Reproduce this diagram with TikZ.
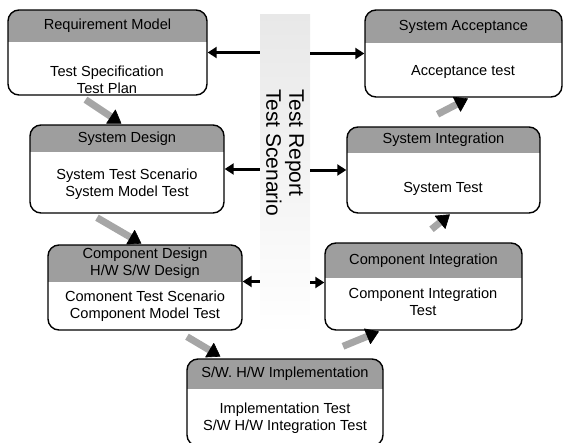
\documentclass[tikz,border=0pt]{standalone}
\usepackage{fontspec}
\setmainfont{Liberation Sans}
\usetikzlibrary{arrows.meta,fit,calc}

\tikzset{
  stagebox/.style={draw=black, line width=1.4pt, rounded corners=11pt, inner sep=0pt},
  headfill/.style={fill=black!38},
  headtext/.style={font=\fontsize{14.6}{17}\selectfont, align=center, inner sep=0pt},
  bodytext/.style={font=\fontsize{14.6}{17}\selectfont, align=center, inner sep=0pt},
  flow/.style={line width=3pt, -{Triangle[length=9pt,width=11pt]}},
  stepshaft/.style={draw=black!35, line width=7pt},
  stephead/.style={fill=black, draw=black, line width=0.6pt, line join=round},
  barbox/.style={inner sep=0pt, top color=black!9, bottom color=white},
  bartext/.style={font=\fontsize{21}{23}\selectfont, align=left, inner sep=0pt, rotate=-90, anchor=west},
}

% #1 name, #2 left, #3 top, #4 right, #5 bottom, #6 header bottom, #7 header text
\newcommand\vmstage[7]{%
  \begin{scope}
    \clip[rounded corners=11pt] (#2,#3) rectangle (#4,#5);
    \fill[headfill] (#2,#3) rectangle (#4,#6);
  \end{scope}
  \node[stagebox, fit={(#2,#3) (#4,#5)}] (#1) {};
  \node[headtext] (#1head) at ({(#2+#4)/2},{(#3+#6)/2}) {#7};
}

% broad grey step arrow with a black head, from #1 to #2
\newcommand\vmstep[2]{%
  \coordinate (vmfrom) at (#1);
  \coordinate (vmto) at (#2);
  \coordinate (vmbase) at ($(vmto)!12pt!(vmfrom)$);
  \draw[stepshaft] (vmfrom) -- ($(vmto)!10pt!(vmfrom)$);
  \filldraw[stephead] (vmto) -- ($(vmbase)!8pt!90:(vmto)$) -- ($(vmbase)!8pt!-90:(vmto)$) -- cycle;
}

\begin{document}
\begin{tikzpicture}[x=1pt, y=-1pt]
  \useasboundingbox (0,0) rectangle (567,442);

  % central report/scenario strip
  \node[barbox, fit={(260,14) (310,335)}] (bar) {};
  \node[bartext] (bartxt) at ([yshift=-75pt]bar.north) {Test Report\\Test Scenario};

  % left branch: specification and design
  \vmstage{req}{8}{10}{207}{95}{42}{Requirement Model}
  \node[bodytext] (reqbody) at (107,80) {Test Specification\\Test Plan};

  \vmstage{sysd}{30}{125}{224}{213}{152}{System Design}
  \node[bodytext] (sysdbody) at (127,184) {System Test Scenario\\System Model Test};

  \vmstage{compd}{48}{245}{242}{330}{282}{Component Design\\H/W S/W Design}
  \node[bodytext] (compdbody) at (145,306) {Comonent Test Scenario\\Component Model Test};

  % bottom: implementation
  \vmstage{impl}{187}{359}{383}{446}{389}{S/W. H/W Implementation}
  \node[bodytext] (implbody) at (285,418) {Implementation Test\\S/W H/W Integration Test};

  % right branch: integration and acceptance
  \vmstage{compi}{325}{243}{522}{330}{278}{Component Integration}
  \node[bodytext] (compibody) at (423,302) {Component Integration\\Test};

  \vmstage{sysi}{347}{127}{540}{213}{153}{System Integration}
  \node[bodytext] (sysibody) at (443,189) {System Test};

  \vmstage{acc}{365}{10}{562}{97}{43}{System Acceptance}
  \node[bodytext] (accbody) at (463,72) {Acceptance test};

  % development flow
  \vmstep{[xshift=-22pt,yshift=-4pt]req.south}{[xshift=-6pt,yshift=1pt]sysd.north}
  \vmstep{[xshift=-30pt,yshift=-4pt]sysd.south}{[xshift=-4pt,yshift=1pt]compd.north}
  \vmstep{[xshift=42pt,yshift=-6pt]compd.south}{[xshift=-65pt,yshift=2pt]impl.north}
  \vmstep{[xshift=58pt,yshift=12pt]impl.north}{[xshift=-45pt,yshift=-1pt]compi.south}
  \vmstep{[xshift=8pt,yshift=13pt]compi.north}{[xshift=6pt,yshift=-1pt]sysi.south}
  \vmstep{[xshift=-6pt,yshift=12pt]sysi.north}{[xshift=4pt,yshift=-1pt]acc.south}

  % report/scenario exchange
  \draw[flow] (bar.west |- req.east) -- (req.east);
  \draw[flow] (bar.east |- acc.west) -- (acc.west);
  \draw[flow] (bar.west |- sysd.east) -- (sysd.east);
  \draw[flow] (bar.east |- sysi.west) -- (sysi.west);
  \draw[flow] ([yshift=6pt]bar.west |- compd.east) -- ([yshift=6pt]compd.east);
  \draw[flow] ([yshift=4pt]bar.east |- compi.west) -- ([yshift=4pt]compi.west);
\end{tikzpicture}
\end{document}
